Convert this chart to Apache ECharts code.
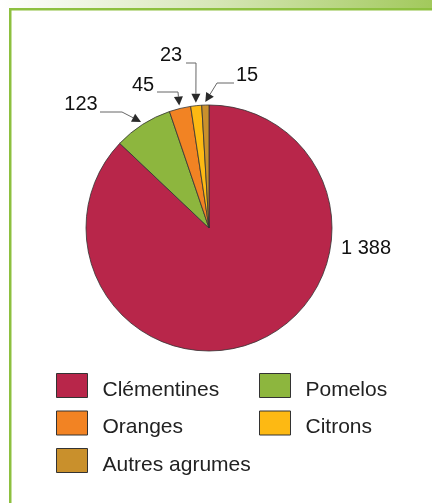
<!DOCTYPE html>
<html>
<head>
<meta charset="utf-8">
<script src="https://cdn.jsdelivr.net/npm/echarts@6/dist/echarts.min.js"></script>
<style>
html,body{margin:0;padding:0;background:#fff;}
#chart{width:432px;height:503px;}
</style>
</head>
<body>
<div id="chart"></div>
<script>
// Data
var categories = ['Clémentines', 'Pomelos', 'Oranges', 'Citrons', 'Autres agrumes'];
var values = [1388, 123, 45, 23, 15];
var colors = ['#B8264A', '#8DB63E', '#F28323', '#FDB913', '#C9902C'];
var leftLegend = ['Clémentines', 'Oranges', 'Autres agrumes'];
var rightLegend = ['Pomelos', 'Citrons'];

// Layout (not data)
var CX = 209, CY = 228, R = 123;
var labelPos = [[366, 248], [81, 104], [143, 85], [171, 55], [247, 75]];
var elbows = [null, [[100, 112], [122, 112]], [[157, 92], [178, 92]], [[186, 63], [196, 63]], [[234, 83], [217, 83]]];

function fmt(v) {
  return String(v).replace(/\B(?=(\d{3})+(?!\d))/g, ' ');
}

var chart = echarts.init(document.getElementById('chart'), null, {renderer: 'canvas'});

var total = values.reduce(function (a, b) { return a + b; }, 0);
var graphics = [];
// frame decoration
graphics.push({
  type: 'rect', shape: {x: 0, y: 0, width: 432, height: 8},
  style: {fill: new echarts.graphic.LinearGradient(0, 0, 1, 0, [
    {offset: 0, color: '#ffffff'}, {offset: 0.5, color: '#d6e6b6'}, {offset: 1, color: '#a2c95c'}])},
  silent: true
});
graphics.push({type: 'rect', shape: {x: 9, y: 8, width: 423, height: 2.5}, style: {fill: '#8DC03F'}, silent: true});
graphics.push({type: 'rect', shape: {x: 9, y: 8, width: 2.5, height: 495}, style: {fill: '#8DC03F'}, silent: true});

// leader lines with arrowheads pointing at each slice's mid-angle
var acc = 0;
for (var i = 0; i < values.length; i++) {
  var a0 = acc / total * 2 * Math.PI;
  acc += values[i];
  var a1 = acc / total * 2 * Math.PI;
  if (!elbows[i]) continue;
  var mid = (a0 + a1) / 2;
  var tip = [CX + (R + 3) * Math.sin(mid), CY - (R + 3) * Math.cos(mid)];
  var e = elbows[i];
  var last = e[e.length - 1];
  var dx = tip[0] - last[0], dy = tip[1] - last[1];
  var len = Math.sqrt(dx * dx + dy * dy);
  var ux = dx / len, uy = dy / len;
  var hl = 9, hw = 4.5;
  var base = [tip[0] - ux * hl, tip[1] - uy * hl];
  graphics.push({
    type: 'polyline',
    shape: {points: e.concat([base])},
    style: {stroke: '#666', lineWidth: 1, fill: null},
    silent: true
  });
  graphics.push({
    type: 'polygon',
    shape: {points: [tip, [base[0] - uy * hw, base[1] + ux * hw], [base[0] + uy * hw, base[1] - ux * hw]]},
    style: {fill: '#2a2a2a'},
    silent: true
  });
}

var legendCommon = {
  orient: 'vertical',
  padding: 0,
  itemWidth: 31,
  itemHeight: 24,
  itemGap: 10,
  icon: 'rect',
  selectedMode: false,
  itemStyle: {borderColor: '#333', borderWidth: 1},
  formatter: '{t|{name}}',
  textStyle: {
    fontFamily: 'Liberation Sans, Arial, sans-serif', fontSize: 21, color: '#222',
    rich: {t: {fontFamily: 'Liberation Sans, Arial, sans-serif', fontSize: 21, color: '#222', padding: [9, 0, 0, 10]}}
  }
};

chart.setOption({
  animation: false,
  color: colors,
  legend: [
    Object.assign({}, legendCommon, {left: 56, top: 373, data: leftLegend}),
    Object.assign({}, legendCommon, {left: 259, top: 373, data: rightLegend})
  ],
  series: [{
    type: 'pie',
    center: [CX, CY],
    radius: R,
    startAngle: 90,
    clockwise: true,
    silent: true,
    itemStyle: {borderColor: '#333', borderWidth: 0.8},
    label: {
      show: true,
      position: 'outside',
      formatter: function (p) { return fmt(p.value); },
      fontFamily: 'Liberation Sans, Arial, sans-serif',
      fontSize: 20,
      color: '#111'
    },
    labelLine: {show: false},
    labelLayout: function (p) {
      var pos = labelPos[p.dataIndex];
      return {x: pos[0], y: pos[1], align: 'center', verticalAlign: 'middle'};
    },
    data: categories.map(function (c, i) { return {name: c, value: values[i]}; })
  }],
  graphic: graphics
});
</script>
</body>
</html>
